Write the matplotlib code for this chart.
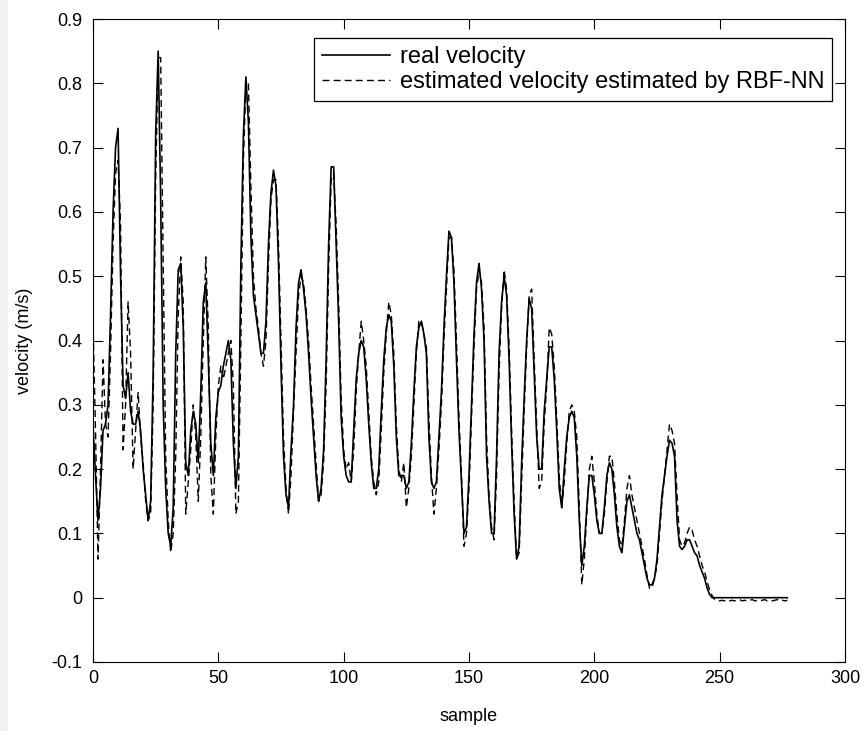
import matplotlib
matplotlib.use("Agg")
import matplotlib.pyplot as plt
from matplotlib.patches import Rectangle
import numpy as np

real_velocity = [
    0.27, 0.19, 0.12, 0.17, 0.26, 0.27, 0.30, 0.44, 0.60, 0.70,
    0.73, 0.50, 0.33, 0.31, 0.35, 0.29, 0.27, 0.27, 0.29, 0.26,
    0.20, 0.16, 0.12, 0.15, 0.35, 0.72, 0.85, 0.62, 0.30, 0.17,
    0.10, 0.08, 0.14, 0.38, 0.51, 0.52, 0.42, 0.21, 0.19, 0.26,
    0.29, 0.27, 0.21, 0.32, 0.46, 0.49, 0.37, 0.24, 0.19, 0.28,
    0.32, 0.33, 0.36, 0.38, 0.40, 0.37, 0.24, 0.17, 0.22, 0.52,
    0.72, 0.81, 0.74, 0.56, 0.47, 0.44, 0.41, 0.38, 0.38, 0.43,
    0.55, 0.63, 0.665, 0.64, 0.52, 0.36, 0.22, 0.16, 0.14, 0.23,
    0.30, 0.42, 0.49, 0.51, 0.48, 0.44, 0.38, 0.31, 0.25, 0.19,
    0.15, 0.17, 0.23, 0.37, 0.55, 0.67, 0.67, 0.55, 0.43, 0.28,
    0.22, 0.19, 0.18, 0.18, 0.26, 0.34, 0.38, 0.40, 0.39, 0.34,
    0.27, 0.21, 0.17, 0.17, 0.20, 0.29, 0.37, 0.42, 0.44, 0.43,
    0.36, 0.25, 0.19, 0.19, 0.19, 0.17, 0.18, 0.24, 0.32, 0.39,
    0.42, 0.43, 0.41, 0.38, 0.25, 0.18, 0.17, 0.18, 0.25, 0.32,
    0.42, 0.50, 0.57, 0.56, 0.49, 0.37, 0.26, 0.18, 0.10, 0.11,
    0.19, 0.30, 0.41, 0.49, 0.52, 0.48, 0.40, 0.22, 0.15, 0.10,
    0.10, 0.22, 0.38, 0.46, 0.50, 0.47, 0.37, 0.24, 0.13, 0.06,
    0.08, 0.21, 0.31, 0.40, 0.465, 0.45, 0.35, 0.25, 0.20, 0.20,
    0.29, 0.34, 0.39, 0.39, 0.34, 0.26, 0.17, 0.14, 0.20, 0.25,
    0.28, 0.29, 0.28, 0.22, 0.12, 0.05, 0.08, 0.14, 0.19, 0.19,
    0.16, 0.12, 0.10, 0.10, 0.14, 0.19, 0.21, 0.20, 0.16, 0.11,
    0.08, 0.07, 0.11, 0.15, 0.16, 0.14, 0.12, 0.10, 0.09, 0.07,
    0.05, 0.03, 0.02, 0.02, 0.03, 0.06, 0.11, 0.16, 0.19, 0.22,
    0.245, 0.24, 0.22, 0.12, 0.08, 0.075, 0.08, 0.09, 0.09, 0.08,
    0.07, 0.065, 0.05, 0.04, 0.03, 0.015, 0.005, 0.0, 0.0, 0.0,
    0.0, 0.0, 0.0, 0.0, 0.0, 0.0, 0.0, 0.0, 0.0, 0.0,
    0.0, 0.0, 0.0, 0.0, 0.0, 0.0, 0.0, 0.0, 0.0, 0.0,
    0.0, 0.0, 0.0, 0.0, 0.0, 0.0, 0.0, 0.0,
]

# RBF-NN estimate, one value per sample
estimated_velocity = [
    0.43, 0.26, 0.06, 0.20, 0.37, 0.27, 0.25, 0.38, 0.55, 0.66,
    0.68, 0.58, 0.23, 0.30, 0.46, 0.38, 0.20, 0.26, 0.32, 0.25,
    0.21, 0.15, 0.12, 0.13, 0.30, 0.65, 0.84, 0.84, 0.52, 0.22,
    0.12, 0.07, 0.10, 0.22, 0.44, 0.53, 0.46, 0.13, 0.18, 0.23,
    0.30, 0.25, 0.15, 0.25, 0.40, 0.53, 0.42, 0.19, 0.13, 0.25,
    0.33, 0.36, 0.34, 0.36, 0.38, 0.40, 0.33, 0.13, 0.15, 0.40,
    0.68, 0.80, 0.80, 0.64, 0.50, 0.45, 0.42, 0.38, 0.36, 0.40,
    0.52, 0.62, 0.65, 0.65, 0.55, 0.40, 0.25, 0.17, 0.13, 0.19,
    0.29, 0.38, 0.47, 0.50, 0.49, 0.45, 0.40, 0.33, 0.27, 0.21,
    0.15, 0.16, 0.21, 0.33, 0.51, 0.65, 0.66, 0.58, 0.46, 0.31,
    0.23, 0.20, 0.21, 0.18, 0.23, 0.32, 0.38, 0.43, 0.40, 0.36,
    0.29, 0.22, 0.18, 0.16, 0.18, 0.26, 0.35, 0.41, 0.46, 0.44,
    0.38, 0.27, 0.20, 0.18, 0.21, 0.14, 0.17, 0.22, 0.30, 0.38,
    0.43, 0.43, 0.41, 0.39, 0.28, 0.19, 0.13, 0.17, 0.23, 0.30,
    0.40, 0.48, 0.56, 0.56, 0.51, 0.40, 0.28, 0.19, 0.08, 0.10,
    0.17, 0.28, 0.39, 0.48, 0.51, 0.49, 0.42, 0.25, 0.16, 0.11,
    0.09, 0.19, 0.35, 0.45, 0.51, 0.48, 0.39, 0.26, 0.15, 0.06,
    0.07, 0.18, 0.29, 0.39, 0.47, 0.48, 0.37, 0.27, 0.17, 0.18,
    0.27, 0.33, 0.42, 0.41, 0.36, 0.28, 0.19, 0.14, 0.18, 0.24,
    0.29, 0.30, 0.29, 0.25, 0.14, 0.02, 0.06, 0.13, 0.20, 0.22,
    0.18, 0.13, 0.10, 0.10, 0.13, 0.18, 0.22, 0.22, 0.18, 0.13,
    0.09, 0.08, 0.12, 0.17, 0.19, 0.16, 0.14, 0.12, 0.10, 0.08,
    0.06, 0.035, 0.015, 0.015, 0.03, 0.05, 0.10, 0.15, 0.19, 0.23,
    0.27, 0.26, 0.24, 0.16, 0.09, 0.08, 0.085, 0.10, 0.11, 0.105,
    0.09, 0.08, 0.065, 0.05, 0.04, 0.025, 0.012, 0.003, -0.003, -0.004,
    -0.005, -0.004, -0.005, -0.003, -0.005, -0.004, -0.005, -0.004, -0.003, -0.005,
    -0.004, -0.005, -0.004, -0.003, -0.005, -0.004, -0.005, -0.004, -0.003, -0.005,
    -0.004, -0.005, -0.004, -0.003, -0.005, -0.004, -0.005, -0.004,
]

samples = np.arange(len(real_velocity))

x_ticks = [0, 50, 100, 150, 200, 250, 300]
y_ticks = [-0.1, 0, 0.1, 0.2, 0.3, 0.4, 0.5, 0.6, 0.7, 0.8, 0.9]
y_tick_labels = ["-0.1", "0", "0.1", "0.2", "0.3", "0.4", "0.5", "0.6", "0.7", "0.8", "0.9"]

plt.rcParams["font.family"] = ["Liberation Sans", "DejaVu Sans"]

W, H = 865, 731
fig = plt.figure(figsize=(W / 100, H / 100), dpi=100)
fig.patch.set_facecolor("white")
# light grey window border on the left edge of the screenshot
fig.patches.append(Rectangle((0, 0), 8 / W, 1, transform=fig.transFigure,
                             facecolor="#f0f0f0", edgecolor="none", zorder=0))

left, right, top, bottom = 93, 845, 19, 662
ax = fig.add_axes([left / W, 1 - bottom / H, (right - left) / W, (bottom - top) / H])

ax.plot(samples, real_velocity, color="black", linewidth=1.2, linestyle="-",
        label="real velocity")
ax.plot(samples, estimated_velocity, color="black", linewidth=1.0,
        linestyle=(0, (5, 3)), label="estimated velocity estimated by RBF-NN")

ax.set_xlim(0, 300)
ax.set_ylim(-0.1, 0.9)
ax.set_xticks(x_ticks)
ax.set_yticks(y_ticks)
ax.set_yticklabels(y_tick_labels)
ax.tick_params(direction="in", length=7, width=0.8, top=True, right=True,
               labelsize=13)
ax.tick_params(axis="y", pad=8)
ax.tick_params(axis="x", pad=6)
for sp in ax.spines.values():
    sp.set_linewidth(0.8)

ax.set_xlabel("sample", fontsize=13, labelpad=15)
ax.set_ylabel("velocity (m/s)", fontsize=13, labelpad=13)

leg = ax.legend(loc="upper right",
                bbox_to_anchor=((832 - left) / (right - left), (bottom - 38) / (bottom - top)),
                fontsize=17, frameon=True, fancybox=False, framealpha=1,
                edgecolor="black", handlelength=2.9, handletextpad=0.4,
                borderpad=0.33, labelspacing=0.14, borderaxespad=0)
leg.get_frame().set_linewidth(0.9)

plt.savefig("out.png", dpi=100)
plt.close()
